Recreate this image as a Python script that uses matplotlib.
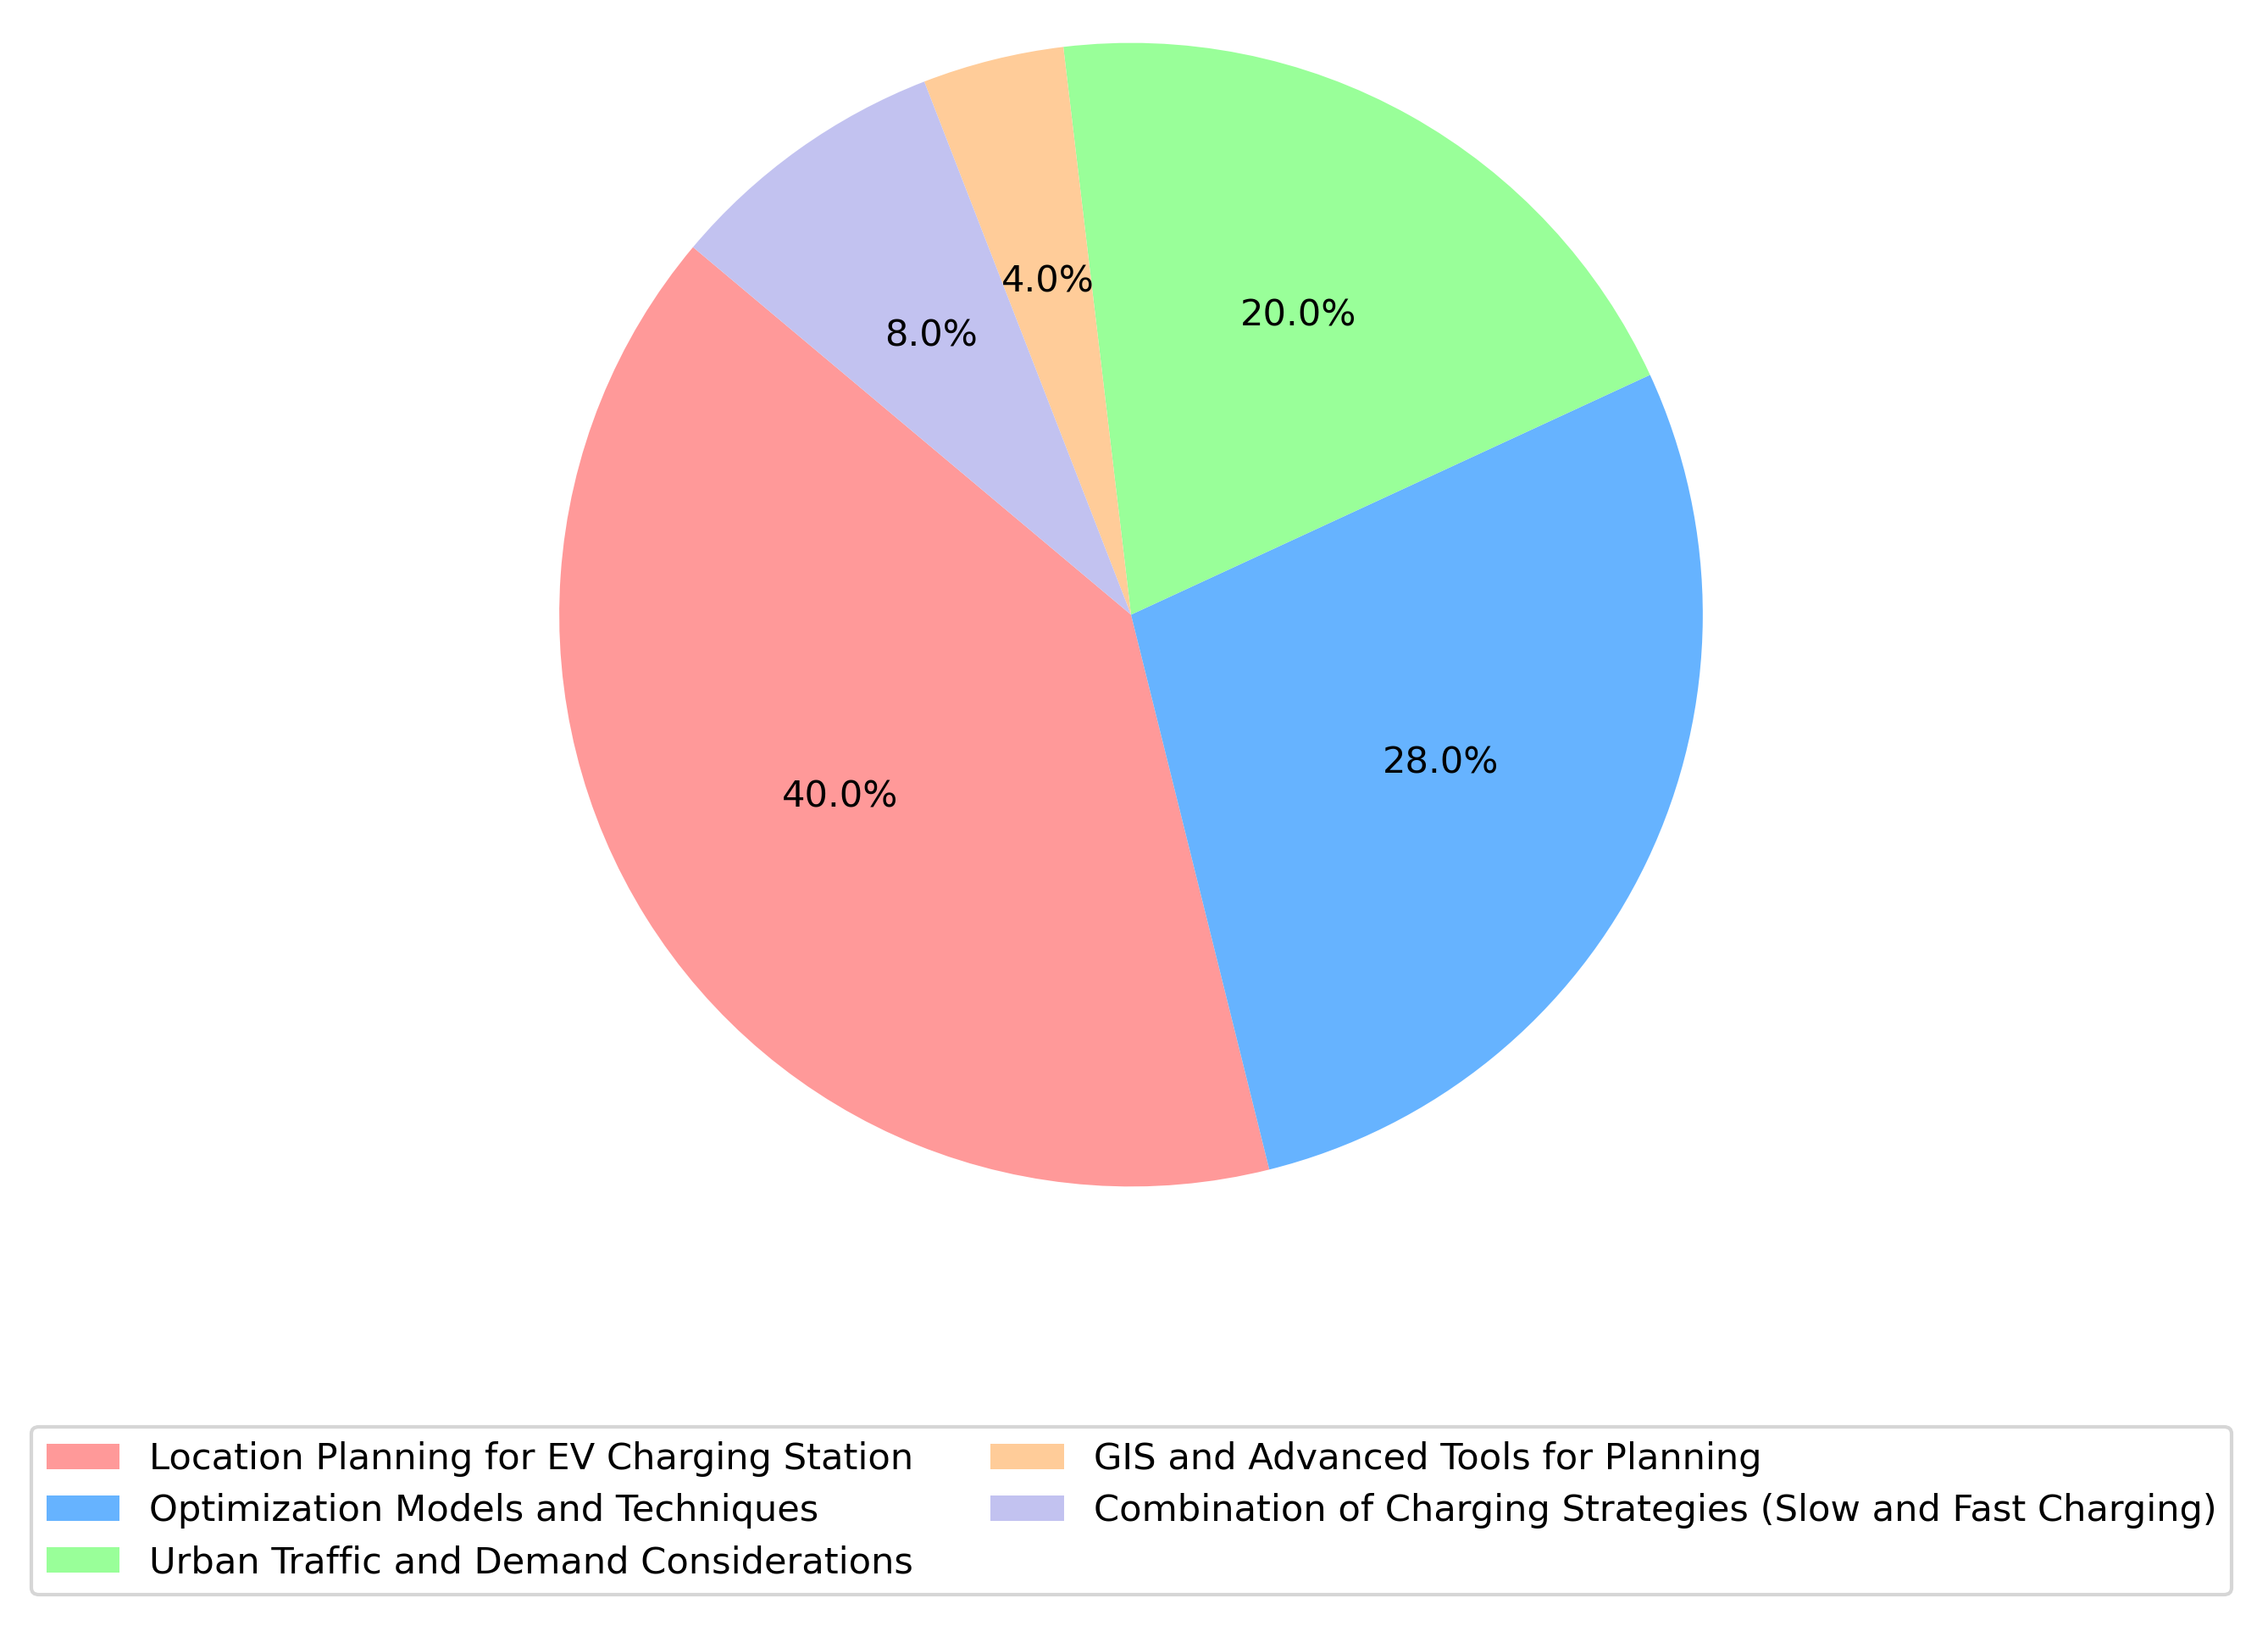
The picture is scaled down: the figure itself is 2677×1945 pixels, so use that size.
import matplotlib
matplotlib.use("Agg")
import matplotlib.pyplot as plt

labels = [
    "Location Planning for EV Charging Station",
    "Optimization Models and Techniques",
    "Urban Traffic and Demand Considerations",
    "GIS and Advanced Tools for Planning",
    "Combination of Charging Strategies (Slow and Fast Charging)",
]
values = [40, 28, 20, 4, 8]
colors = ["#ff9999", "#66b3ff", "#99ff99", "#ffcc99", "#c2c2f0"]

fig = plt.figure(figsize=(2678 / 300, 1945 / 300), dpi=300)
ax = fig.add_axes([0.1835, 0.1932, 0.630, 0.8676])
wedges, texts, autotexts = ax.pie(
    values, colors=colors, autopct="%1.1f%%", startangle=140,
    textprops={"fontsize": 10.4},
)
ax.set_aspect("equal")
ax.set_xlim(-1.25, 1.25)
ax.set_ylim(-1.25, 1.25)

fig.legend(wedges, labels, loc="lower center", ncol=2,
           bbox_to_anchor=(0.4987, 0.021), fontsize=10.4,
           labelspacing=0.44, columnspacing=2.1)

fig.savefig("out.png", dpi=300)
